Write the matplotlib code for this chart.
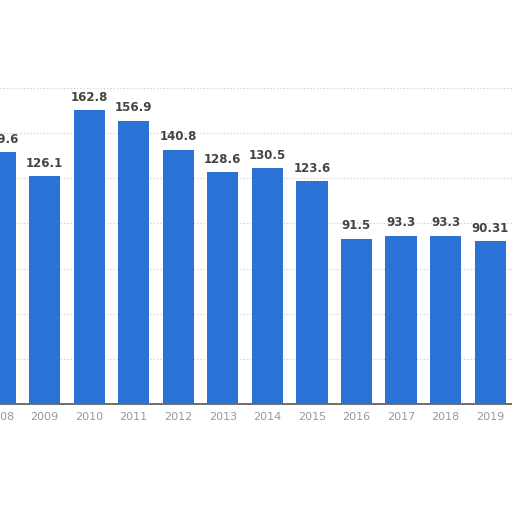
import matplotlib.pyplot as plt
import numpy as np

years = ["2008", "2009", "2010", "2011", "2012", "2013",
         "2014", "2015", "2016", "2017", "2018", "2019"]
values = [139.6, 126.1, 162.8, 156.9, 140.8, 128.6,
          130.5, 123.6, 91.5, 93.3, 93.3, 90.31]
labels = ["139.6", "126.1", "162.8", "156.9", "140.8", "128.6",
          "130.5", "123.6", "91.5", "93.3", "93.3", "90.31"]

fig = plt.figure(figsize=(5.12, 5.12), dpi=100)
ax = fig.add_axes([0.0, 0.211, 1.0, 0.617])

x = np.arange(len(years))
ax.bar(x, values, width=0.7, color="#2a72d6", zorder=3)

for xi, v, lab in zip(x, values, labels):
    ax.text(xi, v + 3.5, lab, ha="center", va="bottom", fontsize=8.5,
            fontweight="bold", color="#444444", zorder=4)

ax.set_xlim(0.0135, 11.49)
ax.set_ylim(0, 175)
ax.set_yticks(np.arange(0, 176, 25))
ax.yaxis.grid(True, linestyle=(0, (1, 2)), color="#c8c8c8", lw=0.8, zorder=0)
ax.tick_params(axis="y", left=False, labelleft=False)
ax.set_xticks(x)
ax.set_xticklabels(years, fontsize=8, color="#999999")
ax.tick_params(axis="x", length=0, pad=6)
for side in ["top", "right", "left"]:
    ax.spines[side].set_visible(False)
ax.spines["bottom"].set_color("#555555")
ax.spines["bottom"].set_linewidth(1.2)

fig.savefig("out.png", dpi=100)
